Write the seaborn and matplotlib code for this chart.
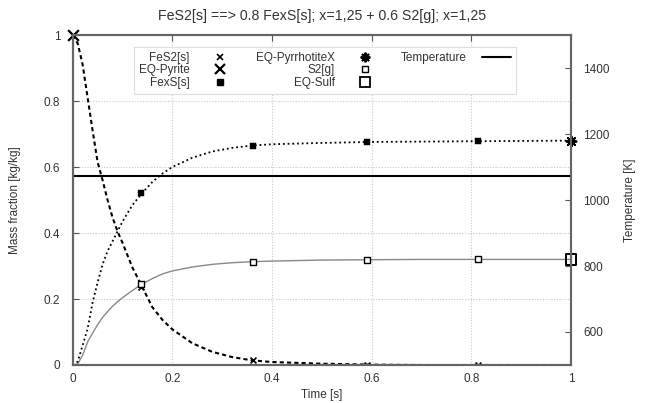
import numpy as np
import pandas as pd
import seaborn as sns
import matplotlib
matplotlib.use("Agg")
import matplotlib.pyplot as plt
from matplotlib.lines import Line2D
from matplotlib.ticker import FormatStrFormatter, MultipleLocator

# curve samples
t_curve = [0, 0.01, 0.02, 0.03, 0.04, 0.05, 0.06, 0.07, 0.08, 0.09, 0.10, 0.12, 0.14,
           0.16, 0.18, 0.20, 0.24, 0.28, 0.32, 0.36, 0.40, 0.5, 0.6, 0.7, 0.8, 0.9, 1.0]
fes2 = [1.0, 0.975, 0.91, 0.81, 0.71, 0.615, 0.56, 0.5, 0.447, 0.405, 0.37, 0.295, 0.235,
        0.175, 0.137, 0.108, 0.066, 0.04, 0.024, 0.014, 0.009, 0.004, 0.001, 0, 0, 0, 0]
fexs = [0, 0.01, 0.06, 0.11, 0.19, 0.25, 0.305, 0.345, 0.375, 0.405, 0.435, 0.485, 0.522,
        0.555, 0.58, 0.6, 0.628, 0.647, 0.658, 0.665, 0.669, 0.673, 0.676, 0.677, 0.678, 0.679, 0.68]
s2 = [0, 0.003, 0.03, 0.07, 0.097, 0.122, 0.144, 0.162, 0.178, 0.192, 0.204, 0.226, 0.246,
      0.262, 0.276, 0.285, 0.297, 0.305, 0.31, 0.313, 0.315, 0.318, 0.319, 0.32, 0.32, 0.32, 0.32]

# sampled output points (markers)
t_pts = [0.138, 0.362, 0.59, 0.814]
fes2_pts = [0.235, 0.014, 0.001, 0.0]
fexs_pts = [0.522, 0.665, 0.676, 0.678]
s2_pts = [0.245, 0.313, 0.319, 0.32]

# equilibrium values
eq_pyrite_t, eq_pyrite = [0.0], [1.0]
eq_pyrrh_t, eq_pyrrh = [1.0], [0.68]
eq_sulf_t, eq_sulf = [1.0], [0.32]

# temperature
t_temp = [0.0, 1.0]
temp = [1073, 1073]

sns.set_style("white")
plt.rcParams["font.family"] = ["Liberation Sans", "DejaVu Sans"]
plt.rcParams["font.size"] = 8.5

curves = pd.DataFrame({"t": t_curve, "FeS2": fes2, "FexS": fexs, "S2": s2})
pts = pd.DataFrame({"t": t_pts, "FeS2": fes2_pts, "FexS": fexs_pts, "S2": s2_pts})

fig = plt.figure(figsize=(6.45, 4.03), dpi=100)
ax = fig.add_axes([0.1127, 0.0943, 0.7725, 0.8188])

ax.grid(True, color="#c8c8c8", linestyle=(0, (1, 1.5)), linewidth=0.8)
ax.set_axisbelow(True)

sns.lineplot(data=curves, x="t", y="S2", ax=ax, color="#888888", linewidth=1.0)
sns.lineplot(data=curves, x="t", y="FexS", ax=ax, color="black", linewidth=1.3,
             linestyle=(0, (1, 1.6)))
sns.lineplot(data=curves, x="t", y="FeS2", ax=ax, color="black", linewidth=1.5,
             linestyle=(0, (2.0, 1.5)))

sns.scatterplot(data=pts, x="t", y="FeS2", ax=ax, marker="x", s=18, color="black",
                linewidth=1.2, zorder=5)
sns.scatterplot(data=pts, x="t", y="FexS", ax=ax, marker="s", s=16, color="black",
                edgecolor="black", zorder=5)
sns.scatterplot(data=pts, x="t", y="S2", ax=ax, marker="s", s=20, facecolor="white",
                edgecolor="black", linewidth=1.0, zorder=5)
sns.scatterplot(x=eq_pyrite_t, y=eq_pyrite, ax=ax, marker="x", s=60, color="black",
                linewidth=1.6, zorder=6, clip_on=False)
sns.scatterplot(x=eq_pyrrh_t, y=eq_pyrrh, ax=ax, marker=(8, 2, 0), s=50, color="black",
                linewidth=1.4, zorder=6, clip_on=False)
sns.scatterplot(x=eq_sulf_t, y=eq_sulf, ax=ax, marker="s", s=60, facecolor="none",
                edgecolor="black", linewidth=1.4, zorder=6, clip_on=False)

ax.set_xlim(0, 1)
ax.set_ylim(0, 1)
ax.xaxis.set_major_locator(MultipleLocator(0.2))
ax.yaxis.set_major_locator(MultipleLocator(0.2))
ax.xaxis.set_major_formatter(FormatStrFormatter("%g"))
ax.yaxis.set_major_formatter(FormatStrFormatter("%g"))
ax.set_xlabel("Time [s]", color="#333333", labelpad=3)
ax.set_ylabel("Mass fraction [kg/kg]", color="#333333", labelpad=16)
ax.tick_params(direction="in", length=4, top=True, right=True, colors="#555555",
               labelcolor="#333333", width=0.8)
ax.tick_params(axis="y", pad=9)
ax.tick_params(axis="x", pad=6)

ax2 = ax.twinx()
sns.lineplot(x=t_temp, y=temp, ax=ax2, color="black", linewidth=1.5)
ax2.set_ylim(500, 1500)
ax2.set_yticks([600, 800, 1000, 1200, 1400])
ax2.set_ylabel("Temperature [K]", color="#333333", labelpad=10)
ax2.tick_params(direction="in", length=4, colors="#555555", labelcolor="#333333",
                width=0.8, pad=9)

for a in (ax, ax2):
    for sp in a.spines.values():
        sp.set_color("#666666")
        sp.set_linewidth(1.5)

ax.set_title("FeS2[s] ==> 0.8 FexS[s]; x=1,25 + 0.6 S2[g]; x=1,25", color="#333333",
             pad=11)

blank = Line2D([], [], linestyle="none")
handles = [
    Line2D([], [], linestyle="none", marker="x", markersize=4, color="black", mew=1.2),
    Line2D([], [], linestyle="none", marker="x", markersize=7, color="black", mew=1.6),
    Line2D([], [], linestyle="none", marker="s", markersize=4, color="black"),
    Line2D([], [], linestyle="none", marker=(8, 2, 0), markersize=7, color="black", mew=1.4),
    Line2D([], [], linestyle="none", marker="s", markersize=4, mfc="white", mec="black"),
    Line2D([], [], linestyle="none", marker="s", markersize=7, mfc="none", mec="black", mew=1.3),
    Line2D([], [], color="black", linewidth=1.5),
    blank, blank,
]
labels = ["FeS2[s]", "EQ-Pyrite", "FexS[s]", "EQ-PyrrhotiteX", "S2[g]", "EQ-Sulf",
          "Temperature", "", ""]
leg = ax2.legend(handles, labels, ncol=3, markerfirst=False, loc="upper left",
                 bbox_to_anchor=(134 / 645, 1 - 47 / 403), bbox_transform=fig.transFigure,
                 borderaxespad=0, fancybox=False, framealpha=1, edgecolor="#dddddd",
                 fontsize=8.5, handlelength=2.5, columnspacing=1.8, labelspacing=0.05,
                 borderpad=0.4, handletextpad=1.3)
leg.get_frame().set_linewidth(0.8)
for txt in leg.get_texts():
    txt.set_color("#333333")

fig.savefig("out.png", dpi=100)
